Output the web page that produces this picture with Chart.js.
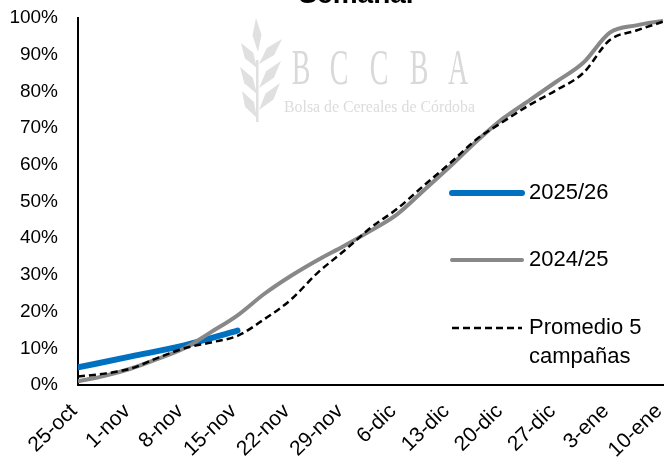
<!DOCTYPE html>
<html><head><meta charset="utf-8">
<script src="https://cdn.jsdelivr.net/npm/chart.js@4"></script>
<style>html,body{margin:0;padding:0;background:#fff;overflow:hidden}#wrap{position:relative;width:668px;height:461px}</style>
</head><body><div id="wrap"><canvas id="c" width="668" height="461"></canvas></div>
<script>
// ---- data ----
const etiquetas = ['25-oct','1-nov','8-nov','15-nov','22-nov','29-nov','6-dic','13-dic','20-dic','27-dic','3-ene','10-ene'];
const yTicks = [0,10,20,30,40,50,60,70,80,90,100];
// días desde el 25-oct
const diasCampaniaActual = [0,7,14,21];
const serie2025 = [4.8,7.8,10.8,14.8];
const dias = [0,3.5,7,10.5,14,17.5,21,24.5,28,31.5,35,38.5,42,45.5,49,52.5,56,59.5,63,66.5,70,73.5,77];
const serie2024 = [1.0,2.5,4.5,7.1,10.0,14.4,19.0,24.8,29.7,34.0,37.9,42.0,46.5,53.0,59.6,66.5,72.7,77.7,82.7,87.8,96.0,98.0,99.2];
const promedio5 = [2.3,3.1,4.5,7.4,10.0,11.6,13.4,17.9,23.2,30.5,36.5,42.8,48.0,54.3,60.5,67.0,71.8,76.4,80.4,85.0,94.0,96.6,99.0];
const nombres = ['2025/26','2024/25',['Promedio 5','campañas']];

const FONT = '"Liberation Sans", Arial, sans-serif';
const pts = (xs, ys) => xs.map((x,i)=>({x:x, y:ys[i]}));

const watermark = {
  id:'watermark',
  beforeDatasetsDraw(chart){
    const ctx = chart.ctx;
    ctx.save();
    ctx.fillStyle = '#e0e0e0';
    function leaf(bx,by,tx,ty,w){
      const mx=(bx+tx)/2,my=(by+ty)/2,dx=tx-bx,dy=ty-by,L=Math.hypot(dx,dy);
      const px=-dy/L*w/2,py=dx/L*w/2;
      ctx.beginPath();ctx.moveTo(bx,by);ctx.lineTo(mx+px,my+py);ctx.lineTo(tx,ty);ctx.lineTo(mx-px,my-py);ctx.closePath();ctx.fill();
    }
    leaf(258,52,256,18,9);
    leaf(257,68,241,43,10);leaf(257,94,240,67,10);leaf(257,118,242,91,10);
    leaf(259,64,282,39,10);leaf(259,88,281,61,10);leaf(259,110,280,83,10);
    ctx.fillRect(256,60,2.5,62);
    ctx.fillStyle = '#d9d9d9';
    ctx.font = '50px "Liberation Serif", serif';
    ctx.textAlign='center'; ctx.textBaseline='alphabetic';
    const letras=['B','C','C','B','A'], cx=[301,339,379,419,458];
    letras.forEach((l,i)=>{ctx.save();ctx.translate(cx[i],84);ctx.scale(0.56,1);ctx.fillText(l,0,0);ctx.restore();});
    ctx.fillStyle = '#dcdcdc';
    ctx.font = '16px "Liberation Serif", serif';
    ctx.textAlign='left';
    ctx.fillText('Bolsa de Cereales de Córdoba',284,112,191);
    ctx.restore();
  }
};

const extras = {
  id:'extras',
  afterDraw(chart){
    const ctx = chart.ctx;
    ctx.save();
    ctx.fillStyle='#000';
    ctx.font='bold 28px '+FONT;
    ctx.textAlign='center'; ctx.textBaseline='alphabetic';
    ctx.fillText('Semanal',356,3);
    // legend
    const ys=[193,260,328];
    chart.data.datasets.forEach((ds,i)=>{
      ctx.beginPath();
      ctx.strokeStyle=ds.borderColor; ctx.lineWidth=ds.borderWidth;
      ctx.setLineDash(ds.borderDash||[]);
      ctx.lineCap = ds.borderDash ? 'butt' : 'round';
      ctx.moveTo(452,ys[i]); ctx.lineTo(522,ys[i]); ctx.stroke();
      ctx.setLineDash([]);
      ctx.fillStyle='#000'; ctx.font='22px '+FONT;
      ctx.textAlign='left'; ctx.textBaseline='middle';
      const lab = Array.isArray(ds.label)?ds.label:[ds.label];
      lab.forEach((t,j)=>ctx.fillText(t,529,ys[i]+j*29));
    });
    ctx.restore();
  }
};

new Chart(document.getElementById('c'),{
  type:'line',
  data:{datasets:[
    {label:nombres[0],data:pts(diasCampaniaActual,serie2025),borderColor:'#0070C0',borderWidth:6,pointRadius:0,cubicInterpolationMode:'monotone',borderCapStyle:'round',order:3},
    {label:nombres[1],data:pts(dias,serie2024),borderColor:'#888888',borderWidth:4,pointRadius:0,cubicInterpolationMode:'monotone',order:2},
    {label:nombres[2],data:pts(dias,promedio5),borderColor:'#000000',borderWidth:2.5,borderDash:[7,4],pointRadius:0,cubicInterpolationMode:'monotone',order:1}
  ]},
  options:{
    responsive:false,animation:false,devicePixelRatio:1,
    layout:{padding:{top:18,right:5,bottom:0,left:0}},
    plugins:{legend:{display:false},tooltip:{enabled:false},title:{display:false}},
    scales:{
      x:{type:'linear',min:0,max:77,
        afterBuildTicks:s=>{s.ticks=etiquetas.map((_,i)=>({value:i*7}));},
        afterFit:s=>{s.height=76;s.paddingLeft=0;s.paddingRight=0;},
        grid:{display:false,drawTicks:false},
        border:{display:true,color:'#000',width:2},
        ticks:{autoSkip:false,minRotation:44,maxRotation:44,padding:14,labelOffset:-4,color:'#000',font:{family:FONT,size:21},
          callback:v=>etiquetas[Math.round(v/7)]}
      },
      y:{min:0,max:100,
        afterBuildTicks:s=>{s.ticks=yTicks.map(v=>({value:v}));},
        afterFit:s=>{s.width=78;s.paddingTop=0;s.paddingBottom=0;},
        grid:{display:false,drawTicks:false},
        border:{display:true,color:'#000',width:2},
        ticks:{padding:20,color:'#000',font:{family:FONT,size:19},callback:v=>v+'%'}
      }
    }
  },
  plugins:[watermark,extras]
});
</script></body></html>
